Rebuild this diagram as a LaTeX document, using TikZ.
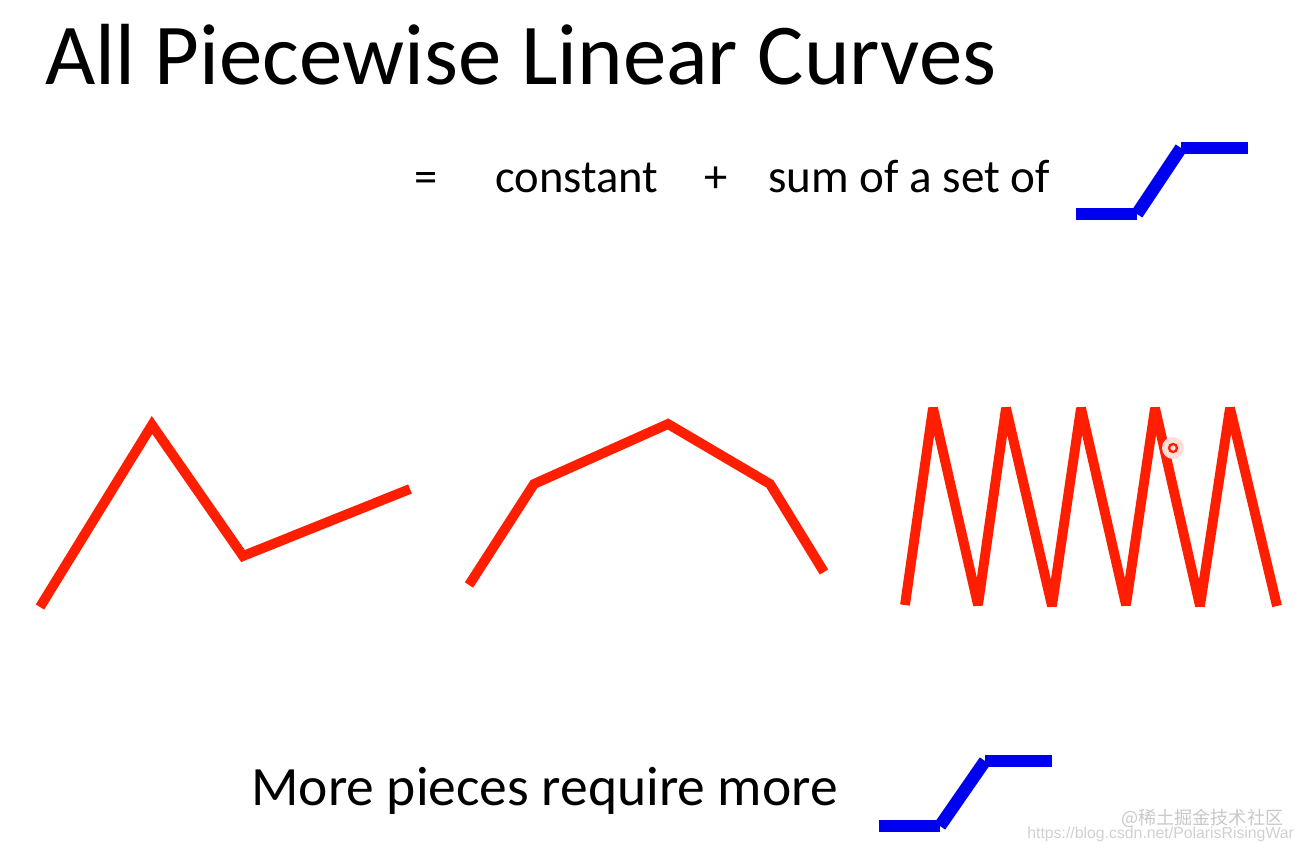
\documentclass[tikz,border=0pt]{standalone}
\usepackage{fontspec}
\setmainfont{Carlito}
\newfontfamily\cjkfont{Noto Sans CJK SC}
\newfontfamily\wmfont{Liberation Sans}
\definecolor{cred}{RGB}{255,30,0}
\definecolor{cblue}{RGB}{0,0,240}
\definecolor{wmgray}{RGB}{200,200,200}
\tikzset{
  redline/.style={draw=cred,line width=5.6pt,line join=miter},
  bluebar/.style={draw=cblue,line width=7.2pt,line cap=butt},
  txt/.style={inner sep=0pt,anchor=base west},
}
\begin{document}
\begin{tikzpicture}[x=0.02cm,y=-0.02cm]
\useasboundingbox (0,0) rectangle (1305,851);
% title
\node[txt,font=\fontsize{49.4}{55}\selectfont] (title) at (45,85) {All Piecewise Linear Curves};
% equation line
\node[txt,font=\fontsize{26.5}{30}\selectfont] (eq) at (414,193) {=};
\node[txt,font=\fontsize{26.5}{30}\selectfont] (const) at (495,193) {constant};
\node[txt,font=\fontsize{26.5}{30}\selectfont] (plus) at (704,193) {+};
\node[txt,font=\fontsize{26.8}{30}\selectfont] (sum) at (768,193) {sum of a set of};
% top blue step
\draw[bluebar] (1076,214) -- (1137,214);
\draw[bluebar] (1137,214) -- (1181,148);
\draw[bluebar] (1181,148) -- (1248,148);
% red curves
\draw[redline] (40,607) -- (152,425) -- (243,556) -- (410,489);
\draw[redline] (469,585) -- (534,484) -- (668,424) -- (770,484) -- (824,572);
\draw[redline,line join=bevel] (905,605) -- (933,408) -- (978,605) -- (1006,408) -- (1052,606)
  -- (1081,408) -- (1126,605) -- (1155,408) -- (1200,606) -- (1230,408) -- (1277,606);
% cursor marker
\fill[cred!15] (1173,448) circle (11);
\draw[cred,line width=1.3pt] (1173,448) circle (4);
% bottom text
\node[txt,font=\fontsize{31.6}{36}\selectfont] (more) at (251,805) {More pieces require more};
% bottom blue step
\draw[bluebar] (879,826) -- (940,826);
\draw[bluebar] (940,826) -- (985,761);
\draw[bluebar] (985,761) -- (1052,761);
% watermark
\node[txt,font=\cjkfont\fontsize{10.3}{12}\selectfont,text=wmgray] (wm1) at (1121,824) {@稀土掘金技术社区};
\node[txt,font=\wmfont\fontsize{9}{10}\selectfont,text=wmgray!85] (wm2) at (1027,838) {https://blog.csdn.net/PolarisRisingWar};
\end{tikzpicture}
\end{document}
